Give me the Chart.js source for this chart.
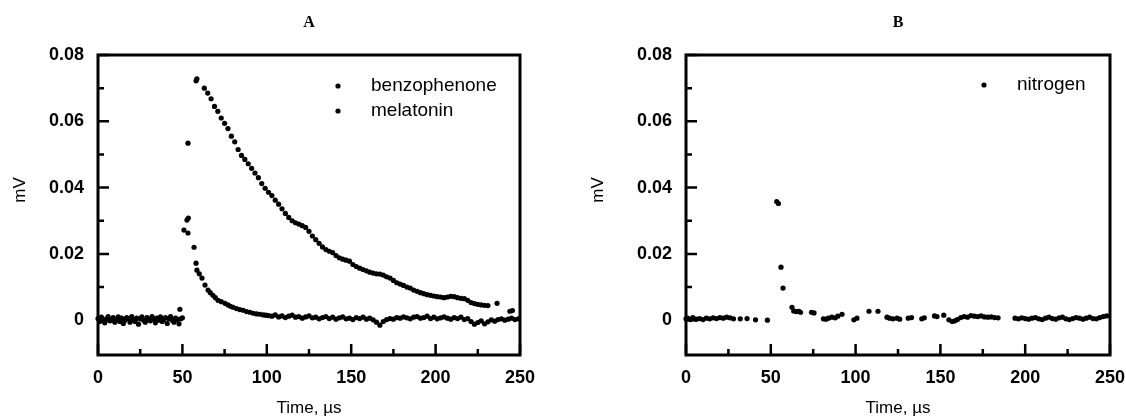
<!DOCTYPE html>
<html>
<head>
<meta charset="utf-8">
<script src="https://cdn.jsdelivr.net/npm/chart.js@4.4.0/dist/chart.umd.min.js"></script>
<style>
  body { margin: 0; background: #fff; width: 1126px; height: 418px; overflow: hidden; position: relative; }
  canvas { position: absolute; top: 0; }
  #chartA { left: 0; }
  #chartB { left: 560px; }
</style>
</head>
<body>
<canvas id="chartA" width="560" height="418"></canvas>
<canvas id="chartB" width="566" height="418"></canvas>
<script>
// axis ticks
var xTickValues = [0, 50, 100, 150, 200, 250];
var xTickLabels = ['0', '50', '100', '150', '200', '250'];
var xMinorValues = [25, 75, 125, 175, 225];
var yTickValues = [0, 0.02, 0.04, 0.06, 0.08];
var yTickLabels = ['0', '0.02', '0.04', '0.06', '0.08'];
var yMinorValues = [0.01, 0.03, 0.05, 0.07];

// panel A - melatonin (time in µs, signal in mV)
var melTime = [
  0, 1, 2, 3, 4, 5, 6, 7, 8, 9, 10, 11, 12, 13, 14, 15, 16, 17, 18, 19, 20, 21, 22, 23, 24, 25,
  26, 27, 28, 29, 30, 31, 32, 33, 34, 35, 36, 37, 38, 39, 40, 41, 42, 43, 44, 45, 46, 47, 48, 49, 50,
  50.9, 52.7, 53.5, 53.3, 56.9, 58.1, 58.6, 60, 61.6, 63.4, 65.2, 66.5, 68.1, 69.5, 71.1, 73, 75.2,
  77, 78.5, 80, 82, 84, 86, 88, 90, 92, 94, 96, 98, 99.5,
  101, 103, 105, 107, 109, 111, 113, 115, 117, 119, 121, 123, 125, 127, 129, 131, 133, 135, 137, 139,
  141, 143, 145, 147, 149, 151, 153, 155, 157, 159, 161, 163, 165, 167, 169, 171, 173, 175, 177, 179,
  181, 183, 185, 187, 189, 191, 193, 195, 197, 199, 201, 203, 205, 207, 209, 211, 213, 215, 217, 219,
  221, 223, 225, 227, 229, 231, 233, 235, 237, 239, 241, 243, 245, 247, 249
];
var melValue = [
  0.0005, -0.0004, 0.0009, 0.0002, -0.0008, 0.0004, 0.0011, -0.0002, 0.0000, 0.0008,
  -0.0006, 0.0002, 0.0010, -0.0004, 0.0006, -0.0010, 0.0000, 0.0008, 0.0004, -0.0006,
  0.0011, 0.0002, -0.0004, 0.0006, -0.0012, 0.0004, 0.0010, 0.0000, -0.0006, 0.0008,
  0.0002, -0.0002, 0.0011, 0.0004, -0.0008, 0.0006, 0.0000, 0.0010, -0.0004, 0.0002,
  0.0008, -0.0010, 0.0004, 0.0011, 0.0000, -0.0006, 0.0006, 0.0002, -0.0011, 0.0004,
  0.0007,
  0.0272, 0.0302, 0.0308, 0.0263, 0.0220, 0.0172, 0.0151, 0.0140, 0.0127, 0.0106, 0.0091, 0.0083,
  0.0075, 0.0068, 0.0060, 0.0056, 0.0051, 0.0046, 0.0042, 0.0039, 0.0035, 0.0032, 0.0030, 0.0026,
  0.0024, 0.0021, 0.0019, 0.0018, 0.0016, 0.0015,
  0.0014, 0.0012, 0.0016, 0.0010, 0.0013, 0.0008, 0.0012, 0.0015, 0.0009, 0.0011,
  0.0006, 0.0010, 0.0013, 0.0007, 0.0009, 0.0004, 0.0008, 0.0011, 0.0005, 0.0009,
  0.0003, 0.0007, 0.0010, 0.0004, 0.0006, 0.0002, 0.0008, 0.0005, 0.0009, 0.0003,
  0.0006, 0.0001, -0.0006, -0.0015, -0.0004, 0.0002, 0.0005, 0.0003, 0.0008, 0.0006,
  0.0010, 0.0007, 0.0004, 0.0009, 0.0011, 0.0006, 0.0008, 0.0012, 0.0005, 0.0009,
  0.0004, 0.0007, 0.0010, 0.0006, 0.0003, 0.0008, 0.0005, 0.0009, 0.0002, 0.0005,
  -0.0004, -0.0012, -0.0007, -0.0002, -0.0011, -0.0005, 0.0001, -0.0003, 0.0002, 0.0004,
  0.0000, 0.0003, 0.0006, 0.0002, 0.0004
];

// panel A - benzophenone
var bzTime = [
  48.5, 53.3, 58.1, 58.6,
  63, 65, 67, 69, 71, 73, 75, 77, 79, 81, 83, 85, 87, 89, 91, 93, 95, 97, 99,
  101, 103, 105, 107, 109, 111, 113, 115, 117, 119, 121, 123, 125, 127, 129, 131, 133, 135, 137, 139,
  141, 143, 145, 147, 149, 151, 153, 155, 157, 159, 161, 163, 165, 167, 169, 171, 173, 175, 177, 179,
  181, 183, 185, 187, 189, 191, 193, 195, 197, 199, 201, 203, 205, 207, 209, 211, 213, 215, 217, 219,
  221, 223, 225, 227, 229, 231, 236.4, 244, 245.5
];
var bzValue = [
  0.0033, 0.0534, 0.0722, 0.0728,
  0.0700, 0.0685, 0.0668, 0.0645, 0.0630, 0.0610, 0.0594, 0.0578, 0.0555, 0.0538, 0.0515, 0.0497,
  0.0485, 0.0472, 0.0458, 0.0444, 0.0430, 0.0412, 0.0398,
  0.0386, 0.0376, 0.0362, 0.0350, 0.0336, 0.0322, 0.0310, 0.0300, 0.0294, 0.0290, 0.0285, 0.0280,
  0.0268, 0.0254, 0.0243, 0.0232, 0.0221, 0.0213, 0.0208, 0.0204,
  0.0195, 0.0188, 0.0184, 0.0181, 0.0178, 0.0168, 0.0162, 0.0157, 0.0153, 0.0149, 0.0145, 0.0142,
  0.0140, 0.0139, 0.0136, 0.0131, 0.0127, 0.0120, 0.0113, 0.0109,
  0.0105, 0.0100, 0.0097, 0.0091, 0.0087, 0.0083, 0.0080, 0.0077, 0.0075, 0.0073, 0.0071, 0.0070,
  0.0068, 0.0070, 0.0072, 0.0071, 0.0068, 0.0066, 0.0065, 0.0060,
  0.0053, 0.0050, 0.0048, 0.0046, 0.0045, 0.0044, 0.0051, 0.0027, 0.0029
];

// panel B - nitrogen
var n2Time = [
  0, 1, 2.5, 4, 6, 8, 10, 12, 14, 16, 18, 20, 22, 24, 26, 28, 32, 36, 41, 48,
  53.5, 54.5, 56, 57.2, 62.5, 63.5, 65, 66.6, 67.5, 74, 75.5, 81, 82.5, 84, 86, 88, 89.5, 92,
  99, 100.8, 107.9, 113.2, 118.5, 120, 122, 124.4, 126, 131, 133, 139, 140.5, 146.5, 148, 152,
  155, 157, 158.5, 160, 162, 164, 166, 168, 170, 172, 174, 176, 178, 180, 182, 184,
  194, 196, 198, 200, 202, 204, 206, 208, 210, 212, 214, 216, 218, 220, 222, 224, 226, 228, 230,
  232, 234, 236, 238, 240, 242, 244, 246, 248
];
var n2Value = [
  0.0004, 0.0006, 0.0002, 0.0008, 0.0003, 0.0005, 0.0002, 0.0006, 0.0004, 0.0007, 0.0005, 0.0008,
  0.0006, 0.0009, 0.0007, 0.0004, 0.0004, 0.0005, 0.0001, 0.0000,
  0.0358, 0.0352, 0.0160, 0.0097, 0.0039, 0.0028, 0.0026, 0.0027, 0.0024, 0.0024, 0.0022, 0.0004,
  0.0003, 0.0006, 0.0009, 0.0007, 0.0012, 0.0018,
  0.0001, 0.0006, 0.0027, 0.0027, 0.0009, 0.0006, 0.0004, 0.0006, 0.0003, 0.0006, 0.0008, 0.0004,
  0.0007, 0.0013, 0.0011, 0.0015,
  0.0001, -0.0004, -0.0002, 0.0002, 0.0008, 0.0011, 0.0009, 0.0014, 0.0012, 0.0011, 0.0013, 0.0010,
  0.0009, 0.0010, 0.0008, 0.0007,
  0.0006, 0.0004, 0.0007, 0.0005, 0.0003, 0.0006, 0.0008, 0.0004, 0.0002, 0.0006, 0.0009, 0.0005,
  0.0003, 0.0007, 0.0009, 0.0004, 0.0002, 0.0005, 0.0008,
  0.0006, 0.0003, 0.0006, 0.0009, 0.0005, 0.0004, 0.0008, 0.0011, 0.0013
];

function toPoints(xs, ys) {
  return xs.map(function (x, i) { return { x: x, y: ys[i] }; });
}

// box, inward ticks, titles and the little legend
var frame = {
  id: 'frame',
  afterDraw: function (chart, args, o) {
    var ctx = chart.ctx, a = chart.chartArea;
    var xs = chart.scales.x, ys = chart.scales.y;
    ctx.save();
    ctx.strokeStyle = '#000';
    ctx.fillStyle = '#000';
    ctx.lineWidth = 3;
    ctx.strokeRect(a.left, a.top, a.right - a.left, a.bottom - a.top);

    ctx.lineWidth = 2.5;
    ctx.beginPath();
    yTickValues.forEach(function (v) {
      var y = ys.getPixelForValue(v);
      ctx.moveTo(a.left, y); ctx.lineTo(a.left + 11, y);
    });
    yMinorValues.forEach(function (v) {
      var y = ys.getPixelForValue(v);
      ctx.moveTo(a.left, y); ctx.lineTo(a.left + 6, y);
    });
    xTickValues.forEach(function (v) {
      var x = xs.getPixelForValue(v);
      ctx.moveTo(x, a.bottom); ctx.lineTo(x, a.bottom - 11);
    });
    xMinorValues.forEach(function (v) {
      var x = xs.getPixelForValue(v);
      ctx.moveTo(x, a.bottom); ctx.lineTo(x, a.bottom - 6);
    });
    ctx.stroke();

    var cx = (a.left + a.right) / 2;
    ctx.textAlign = 'center';
    ctx.textBaseline = 'middle';
    ctx.font = 'bold 16px "Liberation Serif"';
    ctx.fillText(o.title, cx, 23);

    ctx.font = '17px "Liberation Sans"';
    ctx.fillText('Time, µs', cx, 408);

    ctx.save();
    ctx.translate(o.mvX, 190);
    ctx.rotate(-Math.PI / 2);
    ctx.fillText('mV', 0, 0);
    ctx.restore();

    ctx.font = '19px "Liberation Sans"';
    ctx.textAlign = 'left';
    o.legend.forEach(function (item) {
      ctx.beginPath();
      ctx.arc(a.left + item.dotX, a.top + item.dy, 2.6, 0, Math.PI * 2);
      ctx.fill();
      ctx.fillText(item.text, a.left + item.textX, a.top + item.dy);
    });
    ctx.restore();
  }
};

function makeChart(id, datasets, yWidth, rightPad, extra) {
  return new Chart(document.getElementById(id), {
    type: 'scatter',
    data: { datasets: datasets },
    options: {
      responsive: false,
      animation: false,
      events: [],
      layout: { padding: { top: 55, right: rightPad, bottom: 0, left: 0 } },
      plugins: { legend: { display: false }, tooltip: { enabled: false }, frame: extra },
      scales: {
        x: {
          type: 'linear', min: 0, max: 250,
          grid: { display: false, drawTicks: false },
          border: { display: false },
          afterBuildTicks: function (s) { s.ticks = xTickValues.map(function (v) { return { value: v }; }); },
          afterFit: function (s) { s.height = 63; s.paddingLeft = 0; s.paddingRight = 0; },
          ticks: {
            padding: 12, color: '#000', maxRotation: 0,
            font: { family: 'Liberation Sans', size: 18, weight: 'bold' },
            callback: function (v, i) { return xTickLabels[i]; }
          }
        },
        y: {
          type: 'linear', min: -0.0105, max: 0.08,
          grid: { display: false, drawTicks: false },
          border: { display: false },
          afterBuildTicks: function (s) { s.ticks = yTickValues.map(function (v) { return { value: v }; }); },
          afterFit: function (s) { s.width = yWidth; },
          ticks: {
            padding: 14, color: '#000',
            font: { family: 'Liberation Sans', size: 18, weight: 'bold' },
            callback: function (v, i) { return yTickLabels[i]; }
          }
        }
      }
    },
    plugins: [frame]
  });
}

function dots(label, xs, ys) {
  return {
    label: label, data: toPoints(xs, ys), clip: false,
    pointRadius: 2.6, pointBorderWidth: 0,
    backgroundColor: '#000', borderColor: '#000', showLine: false
  };
}

makeChart('chartA', [
  dots('benzophenone', bzTime, bzValue),
  dots('melatonin', melTime, melValue)
], 98, 40, {
  title: 'A', mvX: 20,
  legend: [
    { text: 'benzophenone', dotX: 240, textX: 273, dy: 31 },
    { text: 'melatonin', dotX: 240, textX: 273, dy: 56 }
  ]
});

makeChart('chartB', [
  dots('nitrogen', n2Time, n2Value)
], 126, 16, {
  title: 'B', mvX: 38,
  legend: [
    { text: 'nitrogen', dotX: 298, textX: 331, dy: 30 }
  ]
});
</script>
</body>
</html>
